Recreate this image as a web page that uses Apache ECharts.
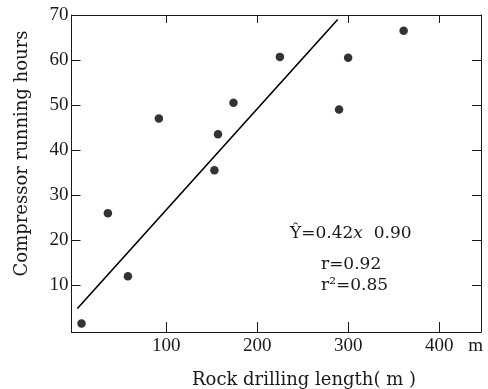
<!DOCTYPE html>
<html><head><meta charset="utf-8">
<script src="https://cdn.jsdelivr.net/npm/echarts@6/dist/echarts.min.js"></script>
<style>html,body{margin:0;padding:0;background:#fff}#c{width:488px;height:389px}</style>
</head><body><div id="c"></div>
<script>
// Data
var drillLength = [7, 36, 58, 92, 153, 157, 174, 225, 290, 300, 361];
var runHours    = [1.5, 26, 12, 47, 35.5, 43.5, 50.5, 60.7, 49, 60.5, 66.5];
var fitLineX = [2.5, 288.5];
var fitLineY = [4.8, 69];
var xTicks = [100, 200, 300, 400];
var yTicks = [10, 20, 30, 40, 50, 60, 70];
var xUnitLabel = 'm';
var xTitle = 'Rock drilling length( m )';
var yTitle = 'Compressor running hours';
var eqLines = ['Ŷ=0.42{i|x}  0.90', 'r=0.92', 'r²=0.85'];

var pts = drillLength.map(function(x, i){ return [x, runHours[i]]; });
var line = fitLineX.map(function(x, i){ return [x, fitLineY[i]]; });
var FONT = '"Liberation Serif", "DejaVu Serif", serif';
var WFONT = '"DejaVu Serif", "Liberation Serif", serif';
var ink = '#1a1a1a';

var chart = echarts.init(document.getElementById('c'), null, {renderer:'canvas'});
chart.setOption({
  animation: false,
  backgroundColor: '#fff',
  grid: {left: 71.5, right: 7, top: 15, bottom: 57},
  xAxis: [{
    type: 'value', min: -4, max: 446, position: 'bottom',
    axisLine: {show: true, onZero: false, lineStyle: {color: ink, width: 1}},
    axisTick: {show: true, inside: true, length: 10, customValues: xTicks, lineStyle: {color: ink}},
    axisLabel: {show: true, customValues: xTicks.concat([440]), margin: 5, fontFamily: FONT, fontSize: 19, color: ink,
      formatter: function(v){ return v === 440 ? xUnitLabel : String(v); }},
    splitLine: {show: false}
  }, {
    type: 'value', min: -4, max: 446, position: 'top',
    axisLine: {show: true, onZero: false, lineStyle: {color: ink, width: 1}},
    axisTick: {show: true, inside: true, length: 8, customValues: xTicks, lineStyle: {color: ink}},
    axisLabel: {show: false},
    splitLine: {show: false}
  }],
  yAxis: [{
    type: 'value', min: -0.4, max: 70, position: 'left',
    axisLine: {show: true, onZero: false, lineStyle: {color: ink, width: 1}},
    axisTick: {show: true, inside: true, length: 9, customValues: yTicks.slice(0, 6), lineStyle: {color: ink}},
    axisLabel: {show: true, customValues: yTicks, margin: 3, fontFamily: FONT, fontSize: 19, color: ink},
    splitLine: {show: false}
  }, {
    type: 'value', min: -0.4, max: 70, position: 'right',
    axisLine: {show: true, onZero: false, lineStyle: {color: ink, width: 1}},
    axisTick: {show: true, inside: true, length: 9, customValues: yTicks.slice(0, 6), lineStyle: {color: ink}},
    axisLabel: {show: false},
    splitLine: {show: false}
  }],
  series: [{
    type: 'scatter', data: pts, symbol: 'circle', symbolSize: 8.5,
    itemStyle: {color: '#000'}
  }, {
    type: 'line', data: line, showSymbol: false, symbol: 'none',
    lineStyle: {color: '#000', width: 1.6}
  }],
  graphic: [
    {type: 'text', x: 22, y: 153.5, rotation: Math.PI / 2,
      style: {text: yTitle, font: '18px ' + WFONT, fill: ink, align: 'center', verticalAlign: 'middle'}},
    {type: 'text', x: 304, y: 380,
      style: {text: xTitle, font: '18px ' + WFONT, fill: ink, align: 'center', verticalAlign: 'middle'}},
    {type: 'text', x: 290, y: 234,
      style: {text: eqLines[0], fontFamily: WFONT, fontSize: 17, fill: ink, align: 'left', verticalAlign: 'middle',
        rich: {i: {fontFamily: WFONT, fontSize: 17, fontStyle: 'italic', fill: ink}}}},
    {type: 'text', x: 321, y: 265,
      style: {text: eqLines[1], font: '17px ' + WFONT, fill: ink, align: 'left', verticalAlign: 'middle'}},
    {type: 'text', x: 321, y: 286,
      style: {text: eqLines[2], font: '17px ' + WFONT, fill: ink, align: 'left', verticalAlign: 'middle'}}
  ]
});
</script></body></html>
